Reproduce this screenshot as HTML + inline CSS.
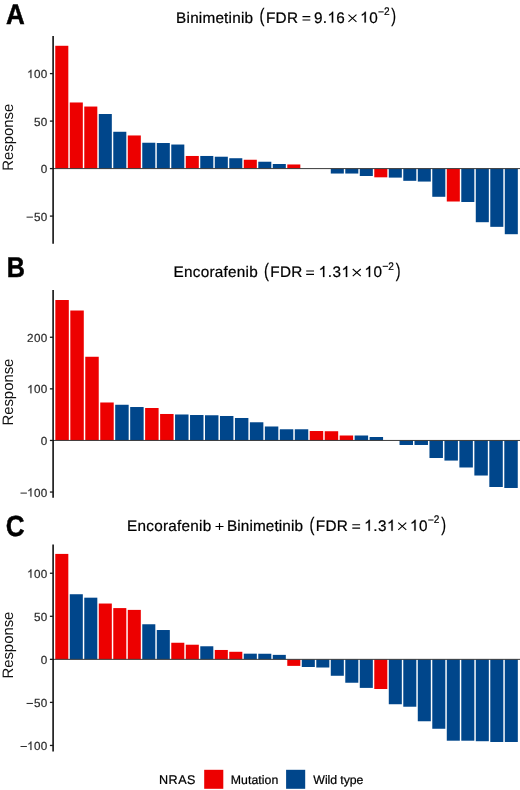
<!DOCTYPE html>
<html><head><meta charset="utf-8"><style>
html,body{margin:0;padding:0;background:#fff;}
svg{display:block;font-family:"Liberation Sans", sans-serif;will-change:transform;text-rendering:geometricPrecision;}
</style></head><body>
<svg width="520" height="790" viewBox="0 0 520 790">
<rect width="520" height="790" fill="#fff"/>
<rect x="55.27" y="45.78" width="13.05" height="122.82" fill="#ED0000"/>
<rect x="69.77" y="102.48" width="13.05" height="66.12" fill="#ED0000"/>
<rect x="84.27" y="106.54" width="13.05" height="62.06" fill="#ED0000"/>
<rect x="98.77" y="114.01" width="13.05" height="54.59" fill="#00468B"/>
<rect x="113.27" y="131.77" width="13.05" height="36.83" fill="#00468B"/>
<rect x="127.77" y="135.46" width="13.05" height="33.14" fill="#ED0000"/>
<rect x="142.27" y="142.74" width="13.05" height="25.86" fill="#00468B"/>
<rect x="156.77" y="143.02" width="13.05" height="25.58" fill="#00468B"/>
<rect x="171.27" y="144.53" width="13.05" height="24.07" fill="#00468B"/>
<rect x="185.77" y="155.97" width="13.05" height="12.63" fill="#ED0000"/>
<rect x="200.27" y="155.97" width="13.05" height="12.63" fill="#00468B"/>
<rect x="214.77" y="156.72" width="13.05" height="11.88" fill="#00468B"/>
<rect x="229.27" y="158.23" width="13.05" height="10.37" fill="#00468B"/>
<rect x="243.77" y="159.75" width="13.05" height="8.85" fill="#ED0000"/>
<rect x="258.27" y="161.73" width="13.05" height="6.87" fill="#00468B"/>
<rect x="272.77" y="164" width="13.05" height="4.6" fill="#00468B"/>
<rect x="287.28" y="164.47" width="13.05" height="4.13" fill="#ED0000"/>
<rect x="330.78" y="168.6" width="13.05" height="4.94" fill="#00468B"/>
<rect x="345.28" y="168.6" width="13.05" height="4.94" fill="#00468B"/>
<rect x="359.78" y="168.6" width="13.05" height="7.4" fill="#00468B"/>
<rect x="374.28" y="168.6" width="13.05" height="8.72" fill="#ED0000"/>
<rect x="388.78" y="168.6" width="13.05" height="9.01" fill="#00468B"/>
<rect x="403.28" y="168.6" width="13.05" height="12.22" fill="#00468B"/>
<rect x="417.78" y="168.6" width="13.05" height="12.97" fill="#00468B"/>
<rect x="432.28" y="168.6" width="13.05" height="28.19" fill="#00468B"/>
<rect x="446.78" y="168.6" width="13.05" height="32.91" fill="#ED0000"/>
<rect x="461.28" y="168.6" width="13.05" height="33.39" fill="#00468B"/>
<rect x="475.78" y="168.6" width="13.05" height="53.61" fill="#00468B"/>
<rect x="490.28" y="168.6" width="13.05" height="58.24" fill="#00468B"/>
<rect x="504.78" y="168.6" width="13.05" height="65.61" fill="#00468B"/>
<line x1="53.1" x2="520" y1="168.6" y2="168.6" stroke="#3a3a3a" stroke-width="1"/>
<line x1="53.1" x2="53.1" y1="36.1" y2="243.8" stroke="#000" stroke-width="1.5"/>
<line x1="49.9" x2="53.1" y1="73.6" y2="73.6" stroke="#1a1a1a" stroke-width="1.3"/>
<line x1="49.9" x2="53.1" y1="121.1" y2="121.1" stroke="#1a1a1a" stroke-width="1.3"/>
<line x1="49.9" x2="53.1" y1="168.6" y2="168.6" stroke="#1a1a1a" stroke-width="1.3"/>
<line x1="49.9" x2="53.1" y1="216.1" y2="216.1" stroke="#1a1a1a" stroke-width="1.3"/>
<text transform="translate(12.9,137.3) rotate(-90) scale(0.985,1)" font-size="15.1" fill="#111" text-anchor="middle">Response</text>
<rect x="55.34" y="300.01" width="13.47" height="140.44" fill="#ED0000"/>
<rect x="70.31" y="310.51" width="13.47" height="129.94" fill="#ED0000"/>
<rect x="85.27" y="356.76" width="13.47" height="83.69" fill="#ED0000"/>
<rect x="100.24" y="402.49" width="13.47" height="37.96" fill="#ED0000"/>
<rect x="115.2" y="404.76" width="13.47" height="35.69" fill="#00468B"/>
<rect x="130.17" y="407.02" width="13.47" height="33.43" fill="#00468B"/>
<rect x="145.13" y="408" width="13.47" height="32.45" fill="#ED0000"/>
<rect x="160.1" y="413.98" width="13.47" height="26.47" fill="#ED0000"/>
<rect x="175.06" y="414.49" width="13.47" height="25.96" fill="#00468B"/>
<rect x="190.03" y="415.01" width="13.47" height="25.44" fill="#00468B"/>
<rect x="204.99" y="415.26" width="13.47" height="25.19" fill="#00468B"/>
<rect x="219.96" y="415.99" width="13.47" height="24.46" fill="#00468B"/>
<rect x="234.92" y="417.99" width="13.47" height="22.46" fill="#00468B"/>
<rect x="249.89" y="422.27" width="13.47" height="18.18" fill="#00468B"/>
<rect x="264.85" y="426.49" width="13.47" height="13.96" fill="#00468B"/>
<rect x="279.82" y="429.27" width="13.47" height="11.18" fill="#00468B"/>
<rect x="294.78" y="429.27" width="13.47" height="11.18" fill="#00468B"/>
<rect x="309.75" y="431.02" width="13.47" height="9.43" fill="#ED0000"/>
<rect x="324.71" y="431.23" width="13.47" height="9.22" fill="#ED0000"/>
<rect x="339.67" y="435.5" width="13.47" height="4.95" fill="#ED0000"/>
<rect x="354.64" y="435.5" width="13.47" height="4.95" fill="#00468B"/>
<rect x="369.6" y="437" width="13.47" height="3.45" fill="#00468B"/>
<rect x="399.53" y="440.45" width="13.47" height="4.53" fill="#00468B"/>
<rect x="414.5" y="440.45" width="13.47" height="4.53" fill="#00468B"/>
<rect x="429.46" y="440.45" width="13.47" height="17.56" fill="#00468B"/>
<rect x="444.43" y="440.45" width="13.47" height="20.13" fill="#00468B"/>
<rect x="459.39" y="440.45" width="13.47" height="27.04" fill="#00468B"/>
<rect x="474.36" y="440.45" width="13.47" height="35.07" fill="#00468B"/>
<rect x="489.32" y="440.45" width="13.47" height="46.55" fill="#00468B"/>
<rect x="504.29" y="440.45" width="13.47" height="47.53" fill="#00468B"/>
<line x1="53.1" x2="520" y1="440.45" y2="440.45" stroke="#3a3a3a" stroke-width="1"/>
<line x1="53.1" x2="53.1" y1="290" y2="497.7" stroke="#000" stroke-width="1.5"/>
<line x1="49.9" x2="53.1" y1="337.25" y2="337.25" stroke="#1a1a1a" stroke-width="1.3"/>
<line x1="49.9" x2="53.1" y1="388.85" y2="388.85" stroke="#1a1a1a" stroke-width="1.3"/>
<line x1="49.9" x2="53.1" y1="440.45" y2="440.45" stroke="#1a1a1a" stroke-width="1.3"/>
<line x1="49.9" x2="53.1" y1="492.05" y2="492.05" stroke="#1a1a1a" stroke-width="1.3"/>
<text transform="translate(12.9,392.1) rotate(-90) scale(0.985,1)" font-size="15.1" fill="#111" text-anchor="middle">Response</text>
<rect x="55.27" y="553.91" width="13.05" height="105.44" fill="#ED0000"/>
<rect x="69.77" y="594.24" width="13.05" height="65.11" fill="#00468B"/>
<rect x="84.27" y="597.68" width="13.05" height="61.67" fill="#00468B"/>
<rect x="98.77" y="603.53" width="13.05" height="55.82" fill="#ED0000"/>
<rect x="113.27" y="608.09" width="13.05" height="51.26" fill="#ED0000"/>
<rect x="127.77" y="609.89" width="13.05" height="49.46" fill="#ED0000"/>
<rect x="142.27" y="624.26" width="13.05" height="35.09" fill="#00468B"/>
<rect x="156.77" y="630.02" width="13.05" height="29.33" fill="#00468B"/>
<rect x="171.27" y="642.75" width="13.05" height="16.6" fill="#ED0000"/>
<rect x="185.77" y="644.72" width="13.05" height="14.63" fill="#ED0000"/>
<rect x="200.27" y="646.27" width="13.05" height="13.08" fill="#00468B"/>
<rect x="214.77" y="649.97" width="13.05" height="9.38" fill="#ED0000"/>
<rect x="229.27" y="651.78" width="13.05" height="7.57" fill="#ED0000"/>
<rect x="243.77" y="653.67" width="13.05" height="5.68" fill="#00468B"/>
<rect x="258.27" y="653.75" width="13.05" height="5.6" fill="#00468B"/>
<rect x="272.77" y="654.87" width="13.05" height="4.48" fill="#00468B"/>
<rect x="287.28" y="659.35" width="13.05" height="6.53" fill="#ED0000"/>
<rect x="301.78" y="659.35" width="13.05" height="7.65" fill="#00468B"/>
<rect x="316.28" y="659.35" width="13.05" height="8.16" fill="#00468B"/>
<rect x="330.78" y="659.35" width="13.05" height="16.42" fill="#00468B"/>
<rect x="345.28" y="659.35" width="13.05" height="23.39" fill="#00468B"/>
<rect x="359.78" y="659.35" width="13.05" height="28.55" fill="#00468B"/>
<rect x="374.28" y="659.35" width="13.05" height="29.66" fill="#ED0000"/>
<rect x="388.78" y="659.35" width="13.05" height="44.89" fill="#00468B"/>
<rect x="403.28" y="659.35" width="13.05" height="47.38" fill="#00468B"/>
<rect x="417.78" y="659.35" width="13.05" height="61.91" fill="#00468B"/>
<rect x="432.28" y="659.35" width="13.05" height="69.4" fill="#00468B"/>
<rect x="446.78" y="659.35" width="13.05" height="81.35" fill="#00468B"/>
<rect x="461.28" y="659.35" width="13.05" height="81.35" fill="#00468B"/>
<rect x="475.78" y="659.35" width="13.05" height="81.87" fill="#00468B"/>
<rect x="490.28" y="659.35" width="13.05" height="82.64" fill="#00468B"/>
<rect x="504.78" y="659.35" width="13.05" height="82.64" fill="#00468B"/>
<line x1="53.1" x2="520" y1="659.35" y2="659.35" stroke="#3a3a3a" stroke-width="1"/>
<line x1="53.1" x2="53.1" y1="544.5" y2="751.5" stroke="#000" stroke-width="1.5"/>
<line x1="49.9" x2="53.1" y1="573.25" y2="573.25" stroke="#1a1a1a" stroke-width="1.3"/>
<line x1="49.9" x2="53.1" y1="616.3" y2="616.3" stroke="#1a1a1a" stroke-width="1.3"/>
<line x1="49.9" x2="53.1" y1="659.35" y2="659.35" stroke="#1a1a1a" stroke-width="1.3"/>
<line x1="49.9" x2="53.1" y1="702.4" y2="702.4" stroke="#1a1a1a" stroke-width="1.3"/>
<line x1="49.9" x2="53.1" y1="745.45" y2="745.45" stroke="#1a1a1a" stroke-width="1.3"/>
<text transform="translate(12.9,645.1) rotate(-90) scale(0.985,1)" font-size="15.1" fill="#111" text-anchor="middle">Response</text>
<rect x="204.2" y="769.8" width="19.1" height="19" fill="#ED0000"/>
<rect x="286.1" y="769.8" width="19.1" height="19" fill="#00468B"/>
<g transform="translate(176.12,22.6)"><text x="0" y="0" font-size="15.3" letter-spacing="0.207" fill="#000" stroke="#000" stroke-width="0.22">Binimetinib</text></g>
<g transform="translate(259.59,22.4) scale(0.7628,1)"><text x="0" y="0" font-size="19.4" fill="#000" stroke="#000" stroke-width="0.22">(</text></g>
<g transform="translate(265.93,22.6)"><text x="0" y="0" font-size="15.3" letter-spacing="0.325" fill="#000" stroke="#000" stroke-width="0.22">FDR</text></g>
<g transform="translate(313.93,22.6)"><text x="0" y="0" font-size="15.3" letter-spacing="0.392" fill="#000" stroke="#000" stroke-width="0.22">9. 6</text><path transform="translate(13.543,0) scale(0.007471,-0.007471)" d="M763 0L583 0L583 1147C540 1106 483 1065 412 1024C342 983 279 952 223 931L223 1105C320 1150 405 1204 478 1268C551 1332 603 1398 633 1466L763 1466Z" fill="#000" stroke="#000" stroke-width="29.448"/></g>
<g transform="translate(360.15,22.6)"><text x="0" y="0" font-size="15.3" letter-spacing="0.6" fill="#000" stroke="#000" stroke-width="0.22"> 0</text><path transform="translate(0,0) scale(0.007471,-0.007471)" d="M763 0L583 0L583 1147C540 1106 483 1065 412 1024C342 983 279 952 223 931L223 1105C320 1150 405 1204 478 1268C551 1332 603 1398 633 1466L763 1466Z" fill="#000" stroke="#000" stroke-width="29.448"/></g>
<g transform="translate(383.99,15.2) scale(0.9171,1)"><text x="0" y="0" font-size="11" fill="#000" stroke="#000" stroke-width="0.22">2</text></g>
<g transform="translate(391.34,22.4) scale(0.7455,1)"><text x="0" y="0" font-size="19.4" fill="#000" stroke="#000" stroke-width="0.22">)</text></g>
<g transform="translate(173.62,277)"><text x="0" y="0" font-size="15.3" letter-spacing="0.25" fill="#000" stroke="#000" stroke-width="0.22">Encorafenib</text></g>
<g transform="translate(263.89,276.8) scale(0.7628,1)"><text x="0" y="0" font-size="19.4" fill="#000" stroke="#000" stroke-width="0.22">(</text></g>
<g transform="translate(270.23,277)"><text x="0" y="0" font-size="15.3" letter-spacing="0.325" fill="#000" stroke="#000" stroke-width="0.22">FDR</text></g>
<g transform="translate(318.65,277)"><text x="0" y="0" font-size="15.3" letter-spacing="0.525" fill="#000" stroke="#000" stroke-width="0.22"> .3 </text><path transform="translate(0,0) scale(0.007471,-0.007471)" d="M763 0L583 0L583 1147C540 1106 483 1065 412 1024C342 983 279 952 223 931L223 1105C320 1150 405 1204 478 1268C551 1332 603 1398 633 1466L763 1466Z" fill="#000" stroke="#000" stroke-width="29.448"/><path transform="translate(22.844,0) scale(0.007471,-0.007471)" d="M763 0L583 0L583 1147C540 1106 483 1065 412 1024C342 983 279 952 223 931L223 1105C320 1150 405 1204 478 1268C551 1332 603 1398 633 1466L763 1466Z" fill="#000" stroke="#000" stroke-width="29.448"/></g>
<g transform="translate(364.45,277)"><text x="0" y="0" font-size="15.3" letter-spacing="0.6" fill="#000" stroke="#000" stroke-width="0.22"> 0</text><path transform="translate(0,0) scale(0.007471,-0.007471)" d="M763 0L583 0L583 1147C540 1106 483 1065 412 1024C342 983 279 952 223 931L223 1105C320 1150 405 1204 478 1268C551 1332 603 1398 633 1466L763 1466Z" fill="#000" stroke="#000" stroke-width="29.448"/></g>
<g transform="translate(388.29,269.6) scale(0.9171,1)"><text x="0" y="0" font-size="11" fill="#000" stroke="#000" stroke-width="0.22">2</text></g>
<g transform="translate(395.64,276.8) scale(0.7455,1)"><text x="0" y="0" font-size="19.4" fill="#000" stroke="#000" stroke-width="0.22">)</text></g>
<g transform="translate(127.03,530.7)"><text x="0" y="0" font-size="15.3" letter-spacing="0.26" fill="#000" stroke="#000" stroke-width="0.22">Encorafenib</text></g>
<g transform="translate(227.03,530.7)"><text x="0" y="0" font-size="15.3" letter-spacing="0.117" fill="#000" stroke="#000" stroke-width="0.22">Binimetinib</text></g>
<g transform="translate(309.39,530.5) scale(0.7628,1)"><text x="0" y="0" font-size="19.4" fill="#000" stroke="#000" stroke-width="0.22">(</text></g>
<g transform="translate(315.73,530.7)"><text x="0" y="0" font-size="15.3" letter-spacing="0.325" fill="#000" stroke="#000" stroke-width="0.22">FDR</text></g>
<g transform="translate(364.15,530.7)"><text x="0" y="0" font-size="15.3" letter-spacing="0.525" fill="#000" stroke="#000" stroke-width="0.22"> .3 </text><path transform="translate(0,0) scale(0.007471,-0.007471)" d="M763 0L583 0L583 1147C540 1106 483 1065 412 1024C342 983 279 952 223 931L223 1105C320 1150 405 1204 478 1268C551 1332 603 1398 633 1466L763 1466Z" fill="#000" stroke="#000" stroke-width="29.448"/><path transform="translate(22.844,0) scale(0.007471,-0.007471)" d="M763 0L583 0L583 1147C540 1106 483 1065 412 1024C342 983 279 952 223 931L223 1105C320 1150 405 1204 478 1268C551 1332 603 1398 633 1466L763 1466Z" fill="#000" stroke="#000" stroke-width="29.448"/></g>
<g transform="translate(409.95,530.7)"><text x="0" y="0" font-size="15.3" letter-spacing="0.6" fill="#000" stroke="#000" stroke-width="0.22"> 0</text><path transform="translate(0,0) scale(0.007471,-0.007471)" d="M763 0L583 0L583 1147C540 1106 483 1065 412 1024C342 983 279 952 223 931L223 1105C320 1150 405 1204 478 1268C551 1332 603 1398 633 1466L763 1466Z" fill="#000" stroke="#000" stroke-width="29.448"/></g>
<g transform="translate(433.79,523.3) scale(0.9171,1)"><text x="0" y="0" font-size="11" fill="#000" stroke="#000" stroke-width="0.22">2</text></g>
<g transform="translate(441.14,530.5) scale(0.7455,1)"><text x="0" y="0" font-size="19.4" fill="#000" stroke="#000" stroke-width="0.22">)</text></g>
<g transform="translate(6.01,23.8) scale(0.9114,1)"><text x="0" y="0" font-size="28.5" font-weight="bold" fill="#000" stroke="#000" stroke-width="0.5">A</text></g>
<g transform="translate(6.81,276.7) scale(0.8839,1)"><text x="0" y="0" font-size="28.5" font-weight="bold" fill="#000" stroke="#000" stroke-width="0.5">B</text></g>
<g transform="translate(5.76,535.6) scale(0.8917,1)"><text x="0" y="0" font-size="29.2" font-weight="bold" fill="#000" stroke="#000" stroke-width="0.5">C</text></g>
<g transform="translate(158.98,783.8)"><text x="0" y="0" font-size="12.6" letter-spacing="0.492" fill="#000" stroke="#000" stroke-width="0.22">NRAS</text></g>
<g transform="translate(230.68,784)"><text x="0" y="0" font-size="12.3" letter-spacing="0.068" fill="#000" stroke="#000" stroke-width="0.22">Mutation</text></g>
<g transform="translate(313.35,784)"><text x="0" y="0" font-size="12.3" letter-spacing="-0.066" fill="#000" stroke="#000" stroke-width="0.22">Wild type</text></g>
<g transform="translate(27.08,78.1)"><text x="0" y="0" font-size="11.7" letter-spacing="0.3" fill="#303030" stroke="#303030" stroke-width="0.22"> 00</text><path transform="translate(0,0) scale(0.005713,-0.005713)" d="M763 0L583 0L583 1147C540 1106 483 1065 412 1024C342 983 279 952 223 931L223 1105C320 1150 405 1204 478 1268C551 1332 603 1398 633 1466L763 1466Z" fill="#303030" stroke="#303030" stroke-width="38.509"/></g>
<g transform="translate(33.88,125.6)"><text x="0" y="0" font-size="11.7" letter-spacing="0.3" fill="#303030" stroke="#303030" stroke-width="0.22">50</text></g>
<g transform="translate(40.68,173.1)"><text x="0" y="0" font-size="11.7" fill="#303030" stroke="#303030" stroke-width="0.22">0</text></g>
<g transform="translate(33.88,220.6)"><text x="0" y="0" font-size="11.7" letter-spacing="0.3" fill="#303030" stroke="#303030" stroke-width="0.22">50</text></g>
<g transform="translate(27.08,341.75)"><text x="0" y="0" font-size="11.7" letter-spacing="0.3" fill="#303030" stroke="#303030" stroke-width="0.22">200</text></g>
<g transform="translate(27.08,393.35)"><text x="0" y="0" font-size="11.7" letter-spacing="0.3" fill="#303030" stroke="#303030" stroke-width="0.22"> 00</text><path transform="translate(0,0) scale(0.005713,-0.005713)" d="M763 0L583 0L583 1147C540 1106 483 1065 412 1024C342 983 279 952 223 931L223 1105C320 1150 405 1204 478 1268C551 1332 603 1398 633 1466L763 1466Z" fill="#303030" stroke="#303030" stroke-width="38.509"/></g>
<g transform="translate(40.68,444.95)"><text x="0" y="0" font-size="11.7" fill="#303030" stroke="#303030" stroke-width="0.22">0</text></g>
<g transform="translate(27.08,496.55)"><text x="0" y="0" font-size="11.7" letter-spacing="0.3" fill="#303030" stroke="#303030" stroke-width="0.22"> 00</text><path transform="translate(0,0) scale(0.005713,-0.005713)" d="M763 0L583 0L583 1147C540 1106 483 1065 412 1024C342 983 279 952 223 931L223 1105C320 1150 405 1204 478 1268C551 1332 603 1398 633 1466L763 1466Z" fill="#303030" stroke="#303030" stroke-width="38.509"/></g>
<g transform="translate(27.08,577.75)"><text x="0" y="0" font-size="11.7" letter-spacing="0.3" fill="#303030" stroke="#303030" stroke-width="0.22"> 00</text><path transform="translate(0,0) scale(0.005713,-0.005713)" d="M763 0L583 0L583 1147C540 1106 483 1065 412 1024C342 983 279 952 223 931L223 1105C320 1150 405 1204 478 1268C551 1332 603 1398 633 1466L763 1466Z" fill="#303030" stroke="#303030" stroke-width="38.509"/></g>
<g transform="translate(33.88,620.8)"><text x="0" y="0" font-size="11.7" letter-spacing="0.3" fill="#303030" stroke="#303030" stroke-width="0.22">50</text></g>
<g transform="translate(40.68,663.85)"><text x="0" y="0" font-size="11.7" fill="#303030" stroke="#303030" stroke-width="0.22">0</text></g>
<g transform="translate(33.88,706.9)"><text x="0" y="0" font-size="11.7" letter-spacing="0.3" fill="#303030" stroke="#303030" stroke-width="0.22">50</text></g>
<g transform="translate(27.08,749.95)"><text x="0" y="0" font-size="11.7" letter-spacing="0.3" fill="#303030" stroke="#303030" stroke-width="0.22"> 00</text><path transform="translate(0,0) scale(0.005713,-0.005713)" d="M763 0L583 0L583 1147C540 1106 483 1065 412 1024C342 983 279 952 223 931L223 1105C320 1150 405 1204 478 1268C551 1332 603 1398 633 1466L763 1466Z" fill="#303030" stroke="#303030" stroke-width="38.509"/></g>
<path d="M302.50 16.60H310.30M302.50 20.00H310.30" stroke="#000" stroke-width="1.15" fill="none"/>
<path d="M348.45 14.60L356.45 21.80M356.45 14.60L348.45 21.80" stroke="#000" stroke-width="1.1" fill="none"/>
<path d="M378.40 11.90H383.70" stroke="#000" stroke-width="1.0" fill="none"/>
<path d="M306.20 271.00H314.00M306.20 274.40H314.00" stroke="#000" stroke-width="1.15" fill="none"/>
<path d="M352.75 269.00L360.75 276.20M360.75 269.00L352.75 276.20" stroke="#000" stroke-width="1.1" fill="none"/>
<path d="M382.70 266.30H388.00" stroke="#000" stroke-width="1.0" fill="none"/>
<path d="M352.30 524.70H360.10M352.30 528.10H360.10" stroke="#000" stroke-width="1.15" fill="none"/>
<path d="M398.25 522.70L406.25 529.90M406.25 522.70L398.25 529.90" stroke="#000" stroke-width="1.1" fill="none"/>
<path d="M428.20 520.00H433.50" stroke="#000" stroke-width="1.0" fill="none"/>
<path d="M215.50 526.50H223.50M219.50 522.90V530.10" stroke="#000" stroke-width="1.15" fill="none"/>
<path d="M26.55 217.15H32.95" stroke="#303030" stroke-width="1.05" fill="none"/>
<path d="M20.50 493.10H26.90" stroke="#303030" stroke-width="1.05" fill="none"/>
<path d="M26.55 703.45H32.95" stroke="#303030" stroke-width="1.05" fill="none"/>
<path d="M20.50 746.50H26.90" stroke="#303030" stroke-width="1.05" fill="none"/>
</svg>
</body></html>
